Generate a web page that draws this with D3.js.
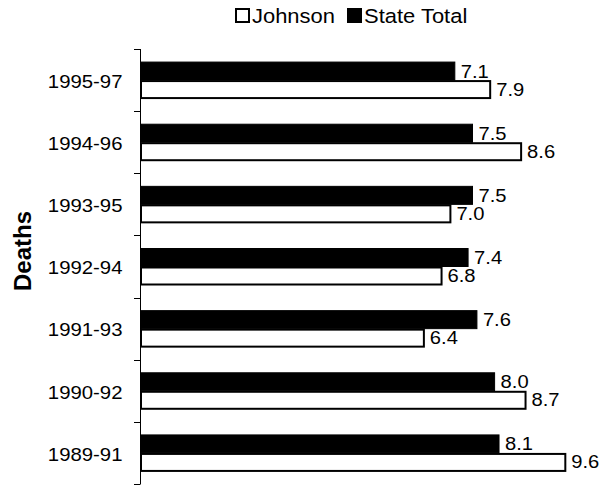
<!DOCTYPE html>
<html>
<head>
<meta charset="utf-8">
<script src="https://cdn.jsdelivr.net/npm/d3@7"></script>
<style>
  body { margin: 0; background: #fff; }
  svg { display: block; font-family: "Liberation Sans", Arial, sans-serif; }
</style>
</head>
<body>
<div id="graph"></div>
<script>
// data, top row first
var periods = ["1995-97", "1994-96", "1993-95", "1992-94", "1991-93", "1990-92", "1989-91"];
var state_total = [7.1, 7.5, 7.5, 7.4, 7.6, 8.0, 8.1];
var johnson = [7.9, 8.6, 7.0, 6.8, 6.4, 8.7, 9.6];
var series_names = ["State Total", "Johnson"];
var legend_names = ["Johnson", "State Total"];

var WIDTH = 608, HEIGHT = 485;
var AXIS_X = 141;
var BAR_H = 18;

// text in the picture is a bit wider than it is tall
function stretch(sel, k) {
  sel.each(function() {
    var len = this.getComputedTextLength();
    d3.select(this).attr("textLength", len * k).attr("lengthAdjust", "spacingAndGlyphs");
  });
}

var svg = d3.select("#graph")
            .append("svg")
              .attr("width", WIDTH)
              .attr("height", HEIGHT);

var yscale = d3.scaleBand()
               .domain(periods)
               .range([49, 484])
               .padding(0);

// inner band for the two bars of each period
var outer = (yscale.bandwidth() / BAR_H - 2) / 2;
var yinner = d3.scaleBand()
               .domain(series_names)
               .range([0, yscale.bandwidth()])
               .paddingInner(0)
               .paddingOuter(outer);

var xscale = d3.scaleLinear()
               .domain([0, 10])
               .range([AXIS_X, 583]);

var rows = periods.map(function(p, i) {
  return {period: p, values: [
    {name: "State Total", v: state_total[i]},
    {name: "Johnson", v: johnson[i]}
  ]};
});

var groups = svg.selectAll("g.row")
                .data(rows)
                .enter()
                .append("g")
                  .attr("class", "row")
                  .attr("transform", function(d) { return "translate(0," + yscale(d.period) + ")"; });

groups.selectAll("rect")
      .data(function(d) { return d.values; })
      .enter()
      .append("rect")
        .attr("x", xscale(0))
        .attr("y", function(d) { return yinner(d.name) + (d.name == "Johnson" ? 1 : 0); })
        .attr("width", function(d) { return xscale(d.v) - xscale(0); })
        .attr("height", function(d) { return d.name == "Johnson" ? BAR_H - 1 : BAR_H; })
        .attr("fill", function(d) { return d.name == "Johnson" ? "#fff" : "#000"; })
        .attr("stroke", "#000")
        .attr("stroke-width", function(d) { return d.name == "Johnson" ? 2 : 1; });

var vlabels = groups.selectAll("text.val")
      .data(function(d) { return d.values; })
      .enter()
      .append("text")
        .attr("class", "val")
        .attr("x", function(d) { return xscale(d.v) + 6; })
        .attr("y", function(d) { return yinner(d.name) + yinner.bandwidth() / 2; })
        .attr("dy", "0.36em")
        .attr("font-size", 18)
        .attr("fill", "#000")
        .text(function(d) { return d.v.toFixed(1); });
stretch(vlabels, 1.12);

// axis: labels at the band centres, ticks on band edges
var y_axis = d3.axisLeft(yscale)
               .tickSize(0)
               .tickPadding(18);

var axisG = svg.append("g")
               .attr("transform", "translate(" + (AXIS_X - 0.5) + ",0)")
               .call(y_axis);
axisG.select(".domain").remove();
axisG.selectAll("text")
     .attr("font-size", 18.5)
     .attr("font-family", "Liberation Sans, Arial, sans-serif")
     .attr("dy", "0.42em")
     .attr("fill", "#000");
stretch(axisG.selectAll("text"), 1.1);

var edges = periods.map(function(p) { return yscale(p); }).concat([yscale.range()[1]]);
svg.append("line")
   .attr("x1", AXIS_X - 0.5).attr("x2", AXIS_X - 0.5)
   .attr("y1", edges[0]).attr("y2", edges[edges.length - 1])
   .attr("stroke", "#000");
svg.selectAll("line.tick")
   .data(edges)
   .enter()
   .append("line")
     .attr("class", "tick")
     .attr("x1", AXIS_X - 7).attr("x2", AXIS_X - 0.5)
     .attr("y1", function(d) { return Math.round(d) + 0.5; })
     .attr("y2", function(d) { return Math.round(d) + 0.5; })
     .attr("stroke", "#000");

// axis title
svg.append("text")
   .attr("transform", "translate(31,251) rotate(-90)")
   .attr("text-anchor", "middle")
   .attr("font-size", 24)
   .attr("font-weight", "bold")
   .attr("fill", "#000")
   .text("Deaths");

// legend
var legend_x = [235, 347];
var leg = svg.selectAll("g.legend")
             .data(legend_names)
             .enter()
             .append("g")
               .attr("class", "legend")
               .attr("transform", function(d, i) { return "translate(" + legend_x[i] + ",0)"; });
leg.append("rect")
   .attr("x", 1).attr("y", 9)
   .attr("width", 13).attr("height", 13)
   .attr("fill", function(d) { return d == "Johnson" ? "#fff" : "#000"; })
   .attr("stroke", "#000")
   .attr("stroke-width", 2);
var legText = leg.append("text")
   .attr("x", 17).attr("y", 23)
   .attr("font-size", 20.5)
   .attr("fill", "#000")
   .text(function(d) { return d; });
stretch(legText, 1.07);
</script>
</body>
</html>
